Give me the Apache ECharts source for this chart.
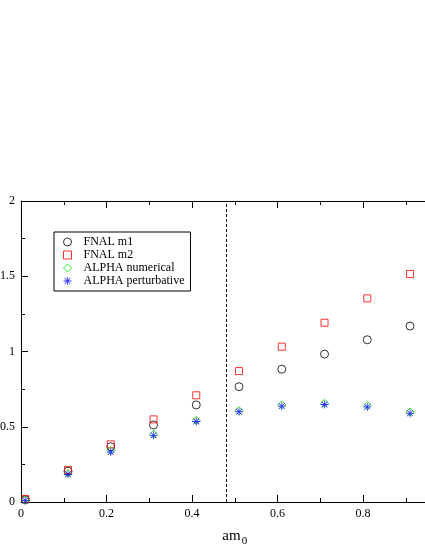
<!DOCTYPE html>
<html>
<head>
<meta charset="utf-8">
<script src="https://cdn.jsdelivr.net/npm/echarts@6/dist/echarts.min.js"></script>
<style>
  html, body { margin: 0; padding: 0; background: #fff; }
  #main { width: 425px; height: 550px; }
</style>
</head>
<body>
<div id="main"></div>
<script>
// am0 values
var xValues = [0.01, 0.11, 0.21, 0.31, 0.41, 0.51, 0.61, 0.71, 0.81, 0.91];
var fnalM1 = [0.015, 0.205, 0.367, 0.512, 0.645, 0.766, 0.882, 0.983, 1.078, 1.169];
var fnalM2 = [0.02, 0.213, 0.383, 0.549, 0.709, 0.870, 1.032, 1.191, 1.353, 1.515];
var alphaNum = [0.012, 0.19, 0.342, 0.45, 0.542, 0.607, 0.645, 0.656, 0.641, 0.598];
var alphaPert = [0.01, 0.184, 0.332, 0.443, 0.535, 0.600, 0.637, 0.648, 0.632, 0.589];
var seriesNames = ['FNAL m1', 'FNAL m2', 'ALPHA numerical', 'ALPHA perturbative'];
var dashX = 0.483;

function pairs(ys) {
    return xValues.map(function (x, i) { return [x, ys[i]]; });
}

// asterisk made of 4 thin bars
var star = 'path://M0,4.5L10,4.5L10,5.5L0,5.5Z M4.5,0L5.5,0L5.5,10L4.5,10Z ' +
    'M1.7,1L9,8.3L8.3,9L1,1.7Z M8.3,1L9,1.7L1.7,9L1,8.3Z';

var font = 'Liberation Serif';
var myChart = echarts.init(document.getElementById('main'));

// hollow markers with a thin outline (empty* symbols force a 2px line)
function hollow(c) {
    return { color: 'rgba(255,255,255,0)', borderColor: c, borderWidth: 1 };
}

myChart.setOption({
    backgroundColor: '#ffffff',
    animation: false,
    grid: { left: 21, top: 201, width: 427.5, height: 301, outerBoundsMode: 'none', containLabel: false },
    legend: {
        orient: 'vertical',
        left: 54,
        top: 232,
        padding: [4, 6, 4, 9],
        itemWidth: 8,
        itemHeight: 8,
        itemGap: 1,
        borderColor: '#000',
        borderWidth: 1,
        itemStyle: { borderWidth: 1 },
        textStyle: { fontFamily: font, fontSize: 12, color: '#000', lineHeight: 12, padding: [0, 0, 0, 7] },
        data: seriesNames
    },
    xAxis: [{
        type: 'value',
        min: 0, max: 1, interval: 0.2,
        name: '{a|am}{s|0}',
        nameLocation: 'middle',
        nameGap: 24,
        nameTextStyle: {
            rich: {
                a: { fontFamily: font, fontSize: 15, color: '#000' },
                s: { fontFamily: font, fontSize: 11, color: '#000', padding: [10, 0, 0, 1] }
            }
        },
        axisLine: { show: true, lineStyle: { color: '#000', width: 1 } },
        axisTick: { inside: true, length: 7, lineStyle: { color: '#000' } },
        minorTick: { show: true, splitNumber: 2, length: 4, lineStyle: { color: '#000' } },
        axisLabel: { fontFamily: font, fontSize: 12, color: '#000', margin: 6 },
        splitLine: { show: false }
    }, {
        type: 'value',
        position: 'top',
        min: 0, max: 1, interval: 0.2,
        axisLine: { show: true, lineStyle: { color: '#000', width: 1 } },
        axisTick: { inside: true, length: 7, lineStyle: { color: '#000' } },
        minorTick: { show: true, splitNumber: 2, length: 4, lineStyle: { color: '#000' } },
        axisLabel: { show: false },
        splitLine: { show: false }
    }],
    yAxis: {
        type: 'value',
        min: 0, max: 2, interval: 0.5,
        axisLine: { show: true, lineStyle: { color: '#000', width: 1 } },
        axisTick: { inside: true, length: 7, lineStyle: { color: '#000' } },
        minorTick: { show: true, splitNumber: 2, length: 4, lineStyle: { color: '#000' } },
        axisLabel: { fontFamily: font, fontSize: 12, color: '#000', margin: 6 },
        splitLine: { show: false }
    },
    series: [
        {
            name: seriesNames[0], type: 'scatter', symbol: 'circle', symbolSize: 8,
            itemStyle: hollow('#000'),
            data: pairs(fnalM1),
            markLine: {
                silent: true, symbol: 'none',
                label: { show: false },
                lineStyle: { color: '#000', type: [3, 2], width: 1 },
                data: [{ xAxis: dashX }]
            }
        },
        {
            name: seriesNames[1], type: 'scatter', symbol: 'rect', symbolSize: 7,
            itemStyle: hollow('#ff0000'),
            data: pairs(fnalM2)
        },
        {
            name: seriesNames[2], type: 'scatter', symbol: 'diamond', symbolSize: 8,
            itemStyle: hollow('#00e000'),
            data: pairs(alphaNum)
        },
        {
            name: seriesNames[3], type: 'scatter', symbol: star, symbolSize: 8,
            itemStyle: { color: '#0000ff' },
            data: pairs(alphaPert)
        }
    ]
});
</script>
</body>
</html>
